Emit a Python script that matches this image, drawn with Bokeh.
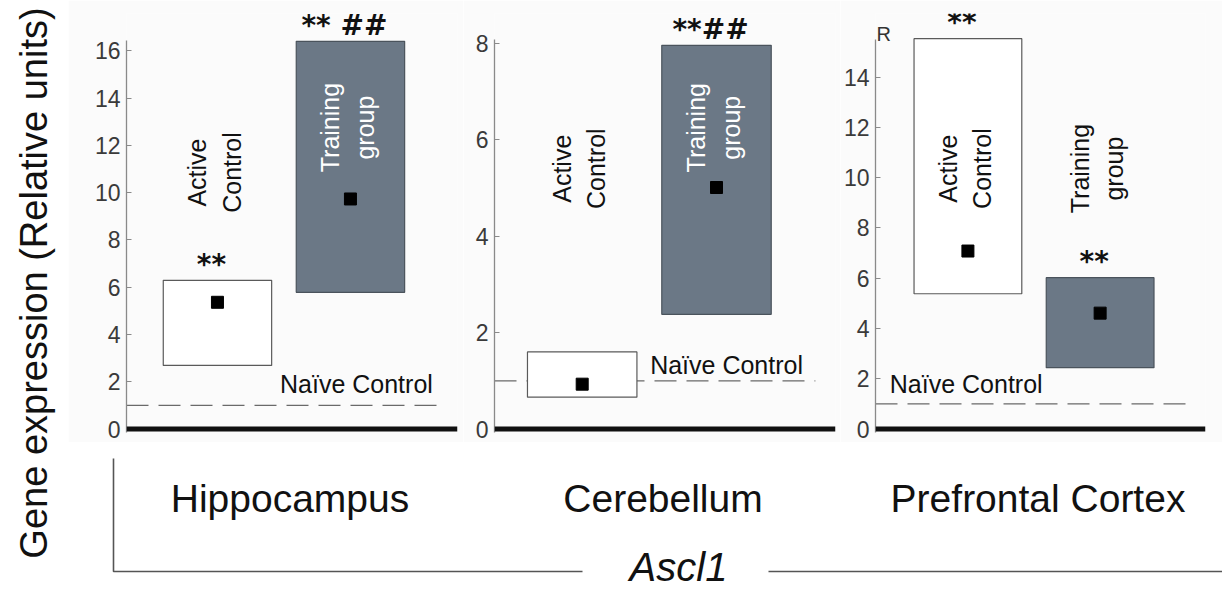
import math
from bokeh.plotting import figure
from bokeh.models import Range1d, FixedTicker, Span, ColumnDataSource
from bokeh.layouts import row, column
from bokeh.core.properties import value
from bokeh.embed import file_html
from bokeh.resources import INLINE

# ---------------- data ----------------
regions = ["Hippocampus", "Cerebellum", "Prefrontal Cortex"]
groups = ["Active Control", "Training group"]
group_labels = ["Active\nControl", "Training\ngroup"]

# interquartile boxes (lower / upper) and medians, [Active Control, Training group]
hip_q1 = [2.69, 5.78]
hip_q3 = [6.29, 16.40]
hip_med = [5.36, 9.73]

cer_q1 = [0.66, 2.38]
cer_q3 = [1.60, 7.96]
cer_med = [0.93, 5.01]

pfc_q1 = [5.38, 2.44]
pfc_q3 = [15.53, 6.02]
pfc_med = [7.08, 4.61]

naive_level = [1.0, 1.0, 1.0]

hip_sig = ["**", "** ##"]
cer_sig = ["", "**##"]
pfc_sig = ["**", "**"]

hip_ticks = [0, 2, 4, 6, 8, 10, 12, 14, 16]
cer_ticks = [0, 2, 4, 6, 8]
pfc_ticks = [0, 2, 4, 6, 8, 10, 12, 14]

y_title = "Gene expression (Relative units)"
gene = "Ascl1"

# ---------------- style / layout ----------------
FONT = "Liberation Sans"
BG = "#fbfbfb"
BOX_FILL = ["#ffffff", "#6b7886"]
BOX_LINE = ["#5a5a5a", "#4a535c"]

panel_cfg = [
    dict(q1=hip_q1, q3=hip_q3, med=hip_med, sig=hip_sig, ticks=hip_ticks, naive=naive_level[0],
         width=395, bl=58, br=6, x=(0.316, 2.805), y=(-0.148, 17.576), axis_top=16.45,
         lab_y=[10.85, 12.75], lab_col=["#111111", "#ffffff"], naive_xy=(2.045, 1.92), extra=None),
    dict(q1=cer_q1, q3=cer_q3, med=cer_med, sig=cer_sig, ticks=cer_ticks, naive=naive_level[1],
         width=377, bl=31, br=5, x=(0.347, 2.886), y=(-0.0726, 8.62), axis_top=8.08,
         lab_y=[5.40, 6.25], lab_col=["#111111", "#ffffff"], naive_xy=(2.075, 1.32), extra=None),
    dict(q1=pfc_q1, q3=pfc_q3, med=pfc_med, sig=pfc_sig, ticks=pfc_ticks, naive=naive_level[2],
         width=382, bl=34, br=17, x=(0.301, 2.797), y=(-0.139, 16.53), axis_top=15.5,
         lab_y=[10.36, 10.36], lab_col=["#111111", "#111111"], naive_xy=(0.987, 1.81), extra=("R", 15.73)),
]

LEFT_W = 68
PANEL_H = 442
TOTAL_H = 589
panels = []
frame_centers = []
x_cursor = LEFT_W
for cfg in panel_cfg:
    p = figure(width=cfg["width"], height=PANEL_H,
               x_range=Range1d(*cfg["x"]), y_range=Range1d(*cfg["y"]),
               output_backend="svg", toolbar_location=None,
               min_border_left=cfg["bl"], min_border_right=cfg["br"],
               min_border_top=13, min_border_bottom=10)
    p.background_fill_color = BG
    p.border_fill_color = BG
    p.outline_line_color = None
    p.grid.visible = False
    p.xaxis.visible = False
    ya = p.yaxis[0]
    ya.ticker = FixedTicker(ticks=cfg["ticks"])
    ya.bounds = (cfg["y"][0], cfg["axis_top"])
    ya.axis_line_color = "#8a8a8a"
    ya.axis_line_width = 1.3
    ya.major_tick_line_color = "#8a8a8a"
    ya.major_tick_in = 5
    ya.major_tick_out = 0
    ya.minor_tick_line_color = None
    ya.major_label_text_font = FONT
    ya.major_label_text_font_size = "23px"
    ya.major_label_text_color = "#3a3a3a"
    ya.major_label_standoff = 6

    xs = [1, 2]
    src = ColumnDataSource(dict(x=xs, q1=cfg["q1"], q3=cfg["q3"], med=cfg["med"],
                                sig=cfg["sig"], fill=BOX_FILL, line=BOX_LINE,
                                lab=group_labels, lab_y=cfg["lab_y"], lab_col=cfg["lab_col"]))

    # naive control reference
    x0, x1 = cfg["x"]
    p.segment(x0=[x0], y0=[cfg["naive"]], x1=[x1 - 0.15], y1=[cfg["naive"]],
              line_color="#6a6a6a", line_width=1.3, line_dash="22 10")
    p.text(x=[cfg["naive_xy"][0]], y=[cfg["naive_xy"][1]], text=["Naïve Control"],
           text_font=value(FONT), text_font_size="25px", text_color="#111111",
           text_align="center", text_baseline="middle")

    # boxes
    p.vbar(x="x", width=0.815, bottom="q1", top="q3", fill_color="fill",
           line_color="line", line_width=1.2, source=src)
    p.scatter(x="x", y="med", marker="square", size=12, color="black", source=src)

    # significance marks
    p.text(x="x", y="q3", text="sig", x_offset=-6, y_offset=-16,
           text_font=value("DejaVu Sans"), text_font_style="bold", text_font_size="28px",
           text_color="#111111", text_align="center", text_baseline="alphabetic", source=src)

    # group labels
    p.text(x="x", y="lab_y", text="lab", angle=math.pi / 2, x_offset=-3,
           text_font=value(FONT), text_font_size="25px", text_color="lab_col",
           text_align="center", text_baseline="middle", text_line_height=1.22, source=src)

    if cfg["extra"]:
        p.text(x=[x0], y=[cfg["extra"][1]], text=[cfg["extra"][0]], x_offset=1,
               text_font=value(FONT), text_font_size="20px", text_color="#333333",
               text_align="left", text_baseline="middle")

    # baseline
    p.add_layout(Span(location=0, dimension="width", line_color="#111111", line_width=5))

    frame_left = x_cursor + cfg["bl"]
    frame_right = x_cursor + cfg["width"] - cfg["br"]
    frame_centers.append((frame_left + frame_right) / 2)
    x_cursor += cfg["width"]
    panels.append(p)

# left title figure
left = figure(width=LEFT_W, height=TOTAL_H, x_range=Range1d(0, LEFT_W), y_range=Range1d(TOTAL_H, 0),
              output_backend="svg", toolbar_location=None, min_border=0)
left.axis.visible = False
left.grid.visible = False
left.outline_line_color = None
left.text(x=[33], y=[282.5], text=[y_title], angle=math.pi / 2,
          text_font=value(FONT), text_font_size="38px", text_color="#111111",
          text_align="center", text_baseline="middle")

# bottom figure: region names, bracket, gene name
BW = x_cursor - LEFT_W
BH = TOTAL_H - PANEL_H
bottom = figure(width=BW, height=BH, x_range=Range1d(LEFT_W, x_cursor), y_range=Range1d(TOTAL_H, PANEL_H),
                output_backend="svg", toolbar_location=None, min_border=0)
bottom.axis.visible = False
bottom.grid.visible = False
bottom.outline_line_color = None
bottom.text(x=[c - 2 for c in frame_centers], y=[498] * 3, text=regions,
            text_font=value(FONT), text_font_size="39px", text_color="#111111",
            text_align="center", text_baseline="middle")
bottom.line(x=[113, 113, 582], y=[458, 571, 571], line_color="#555555", line_width=1.6)
bottom.line(x=[768, x_cursor], y=[571, 571], line_color="#555555", line_width=1.6)
bottom.text(x=[678], y=[566], text=[gene], text_font=value(FONT), text_font_style="italic",
            text_font_size="40px", text_color="#111111", text_align="center",
            text_baseline="middle")

layout = row(left, column(row(*panels), bottom))
open("out.html", "w").write(file_html(layout, INLINE))
